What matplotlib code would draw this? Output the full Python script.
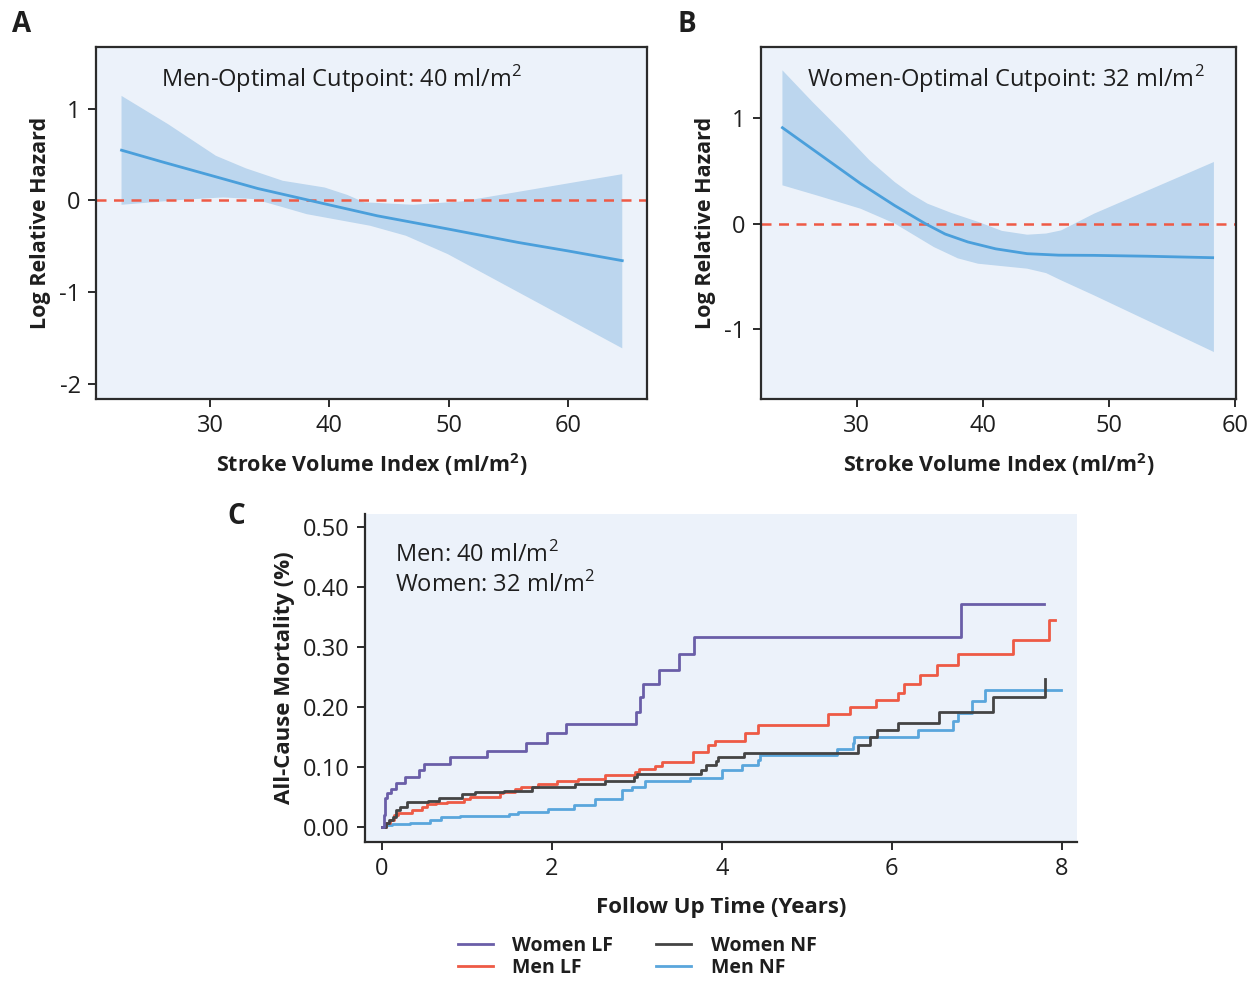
import matplotlib
matplotlib.use("Agg")
import matplotlib.pyplot as plt
from matplotlib.lines import Line2D

plt.rcParams['font.family'] = ['Open Sans', 'DejaVu Sans']
plt.rcParams['mathtext.fontset'] = 'custom'
plt.rcParams['mathtext.rm'] = 'Open Sans'
plt.rcParams['mathtext.bf'] = 'Open Sans:bold'

# ---------------- Data ----------------
# Panel A (men)
a_x = [22.6, 26.0, 30.2, 34.0, 38.7, 44.0, 49.9, 55.8, 60.0, 64.5]
a_y = [0.547, 0.42, 0.268, 0.13, -0.01, -0.167, -0.31, -0.457, -0.55, -0.655]
a_up_x = [22.6, 26.5, 30.5, 33.0, 36.1, 39.6, 41.5, 42.9, 47.0, 51.1, 64.5]
a_up_y = [1.138, 0.83, 0.486, 0.35, 0.214, 0.141, 0.06, -0.02, -0.047, -0.01, 0.286]
a_lo_x = [22.6, 28.0, 31.1, 33.7, 36.0, 38.1, 43.4, 46.4, 49.9, 64.5]
a_lo_y = [-0.047, 0.01, 0.033, 0.015, -0.07, -0.149, -0.275, -0.384, -0.584, -1.609]

# Panel B (women)
b_x = [24.1, 27.0, 30.3, 33.0, 35.4, 37.0, 38.8, 41.0, 43.5, 46.0, 48.8, 53.0, 58.2]
b_y = [0.908, 0.66, 0.378, 0.17, 0.0, -0.1, -0.175, -0.24, -0.286, -0.3, -0.302, -0.31, -0.324]
b_up_x = [24.1, 26.5, 29.0, 31.0, 33.0, 34.3, 35.6, 37.5, 39.6, 41.5, 43.5, 45.0, 46.2, 48.8, 58.3]
b_up_y = [1.452, 1.15, 0.851, 0.6, 0.393, 0.28, 0.188, 0.1, 0.016, -0.07, -0.106, -0.095, -0.065, 0.093, 0.583]
b_lo_x = [24.1, 27.0, 30.3, 33.0, 36.1, 38.0, 39.6, 43.5, 45.0, 46.2, 48.8, 58.3]
b_lo_y = [0.362, 0.26, 0.14, 0.0, -0.223, -0.33, -0.381, -0.428, -0.47, -0.539, -0.681, -1.218]

# Panel C (cumulative mortality step curves)
wlf_t = [0.0, 0.02, 0.04, 0.06, 0.11, 0.16, 0.27, 0.43, 0.49, 0.80, 1.23, 1.69, 1.94, 2.17,
         2.99, 3.04, 3.07, 3.26, 3.49, 3.67, 6.81, 7.79]
wlf_v = [0.0, 0.02, 0.048, 0.056, 0.064, 0.074, 0.084, 0.095, 0.105, 0.116, 0.127, 0.14, 0.156,
         0.171, 0.192, 0.216, 0.238, 0.262, 0.288, 0.316, 0.372, 0.372]

mlf_t = [0.0, 0.05, 0.09, 0.14, 0.19, 0.35, 0.47, 0.53, 0.64, 0.76, 0.96, 1.04, 1.39, 1.42, 1.56,
         1.64, 1.84, 2.06, 2.31, 2.62, 2.98, 3.02, 3.21, 3.29, 3.66, 3.84, 3.92, 4.27, 4.43, 5.25,
         5.51, 5.82, 6.07, 6.14, 6.33, 6.53, 6.78, 7.43, 7.85, 7.92]
mlf_v = [0.0, 0.006, 0.012, 0.02, 0.024, 0.028, 0.034, 0.038, 0.04, 0.042, 0.046, 0.05, 0.056,
         0.059, 0.063, 0.066, 0.072, 0.076, 0.08, 0.087, 0.092, 0.097, 0.102, 0.109, 0.125, 0.136,
         0.143, 0.156, 0.17, 0.188, 0.2, 0.211, 0.224, 0.238, 0.253, 0.27, 0.288, 0.311, 0.345, 0.345]

wnf_t = [0.0, 0.05, 0.08, 0.13, 0.17, 0.21, 0.29, 0.54, 0.67, 0.94, 1.09, 1.43, 1.76, 2.27, 2.62,
         2.96, 3.0, 3.76, 3.81, 3.93, 3.95, 4.26, 5.6, 5.74, 5.83, 6.07, 6.55, 7.19, 7.80]
wnf_v = [0.0, 0.006, 0.012, 0.017, 0.028, 0.034, 0.041, 0.044, 0.048, 0.055, 0.058, 0.06, 0.067,
         0.072, 0.077, 0.083, 0.088, 0.095, 0.103, 0.11, 0.117, 0.124, 0.137, 0.15, 0.162, 0.174,
         0.192, 0.216, 0.246]

mnf_t = [0.0, 0.05, 0.12, 0.33, 0.56, 0.69, 0.92, 1.49, 1.6, 1.95, 2.26, 2.51, 2.82, 2.94, 3.09,
         3.62, 4.0, 4.24, 4.43, 4.45, 5.35, 5.54, 5.55, 6.31, 6.72, 6.78, 6.95, 7.1, 7.99]
mnf_v = [0.0, 0.003, 0.005, 0.007, 0.012, 0.016, 0.018, 0.022, 0.025, 0.03, 0.037, 0.046, 0.062,
         0.067, 0.076, 0.082, 0.095, 0.104, 0.111, 0.12, 0.13, 0.14, 0.15, 0.162, 0.177, 0.19,
         0.21, 0.228, 0.228]

series_labels = ['Women LF', 'Men LF', 'Women NF', 'Men NF']
series_colors = ['#6A5EA8', '#EE5A45', '#444444', '#5AA6DC']

# ---------------- Style ----------------
BG = '#ECF2FA'
BAND = '#BCD6EE'
LINE = '#4A9FDB'
DASH = '#EE5A45'
SPINE = '#2B2B2B'
TXT = '#1E1E1E'
tick_fs = 17
lab_fs = 15.5
note_fs = 17

fig = plt.figure(figsize=(12.51, 9.81), dpi=100)
fig.patch.set_facecolor('white')

axA = fig.add_axes([0.0767, 0.5933, 0.4405, 0.3588])
axB = fig.add_axes([0.6083, 0.5933, 0.3797, 0.3588])
axC = fig.add_axes([0.2918, 0.1417, 0.5691, 0.3344])


def style(ax, box=True):
    ax.set_facecolor(BG)
    for s in ax.spines.values():
        s.set_color(SPINE)
        s.set_linewidth(1.6)
    if not box:
        ax.spines['top'].set_visible(False)
        ax.spines['right'].set_visible(False)
    ax.tick_params(direction='out', length=6, width=1.4, color=SPINE,
                   labelsize=tick_fs, labelcolor=TXT, pad=5)


def spline_panel(ax, x, y, ux, uy, lx, ly, xlim, ylim, yticks, xticks, title, title_x):
    style(ax)
    poly_x = list(ux) + list(lx)[::-1]
    poly_y = list(uy) + list(ly)[::-1]
    ax.fill(poly_x, poly_y, color=BAND, lw=0, zorder=1)
    ax.axhline(0, color=DASH, lw=1.8, ls=(0, (4, 3)), zorder=2)
    ax.plot(x, y, color=LINE, lw=2.0, zorder=3)
    ax.set_xlim(*xlim)
    ax.set_ylim(*ylim)
    ax.set_xticks(xticks)
    ax.set_yticks(yticks)
    ax.set_yticklabels([str(t) for t in yticks])
    ax.set_xlabel('Stroke Volume Index (ml/m$\\mathbf{^2}$)', fontsize=lab_fs,
                  fontweight='bold', color=TXT, labelpad=9)
    ax.set_ylabel('Log Relative Hazard', fontsize=lab_fs, fontweight='bold',
                  color=TXT, labelpad=6)
    ax.text(title_x, 0.91, title, transform=ax.transAxes, ha='center', va='center',
            fontsize=note_fs, color=TXT)


spline_panel(axA, a_x, a_y, a_up_x, a_up_y, a_lo_x, a_lo_y,
             (20.46, 66.57), (-2.16, 1.67), [-2, -1, 0, 1], [30, 40, 50, 60],
             'Men-Optimal Cutpoint: 40 ml/m$^2$', 0.446)
spline_panel(axB, b_x, b_y, b_up_x, b_up_y, b_lo_x, b_lo_y,
             (22.4, 60.05), (-1.663, 1.673), [-1, 0, 1], [30, 40, 50, 60],
             'Women-Optimal Cutpoint: 32 ml/m$^2$', 0.516)

# Panel C
style(axC, box=False)
axC.step(mnf_t, mnf_v, where='post', color=series_colors[3], lw=2.0, zorder=3)
axC.step(mlf_t, mlf_v, where='post', color=series_colors[1], lw=2.0, zorder=4)
axC.step(wnf_t, wnf_v, where='post', color=series_colors[2], lw=2.0, zorder=5)
axC.step(wlf_t, wlf_v, where='post', color=series_colors[0], lw=2.0, zorder=6)
axC.set_xlim(-0.2, 8.18)
axC.set_ylim(-0.025, 0.522)
axC.set_xticks([0, 2, 4, 6, 8])
axC.set_yticks([0.0, 0.1, 0.2, 0.3, 0.4, 0.5])
axC.set_yticklabels(['%.2f' % v for v in [0.0, 0.1, 0.2, 0.3, 0.4, 0.5]])
axC.set_xlabel('Follow Up Time (Years)', fontsize=16, fontweight='bold',
               color=TXT, labelpad=11)
axC.set_ylabel('All-Cause Mortality (%)', fontsize=16, fontweight='bold',
               color=TXT, labelpad=6)
axC.text(0.042, 0.875, 'Men: 40 ml/m$^2$', transform=axC.transAxes, fontsize=note_fs,
         color=TXT, ha='left', va='center')
axC.text(0.042, 0.785, 'Women: 32 ml/m$^2$', transform=axC.transAxes, fontsize=note_fs,
         color=TXT, ha='left', va='center')

# Panel letters
fig.text(22 / 1251, 1 - 25 / 981, 'A', fontsize=20, fontweight='bold', ha='center', va='center', color=TXT)
fig.text(687 / 1251, 1 - 25 / 981, 'B', fontsize=20, fontweight='bold', ha='center', va='center', color=TXT)
fig.text(236 / 1251, 1 - 517 / 981, 'C', fontsize=20, fontweight='bold', ha='center', va='center', color=TXT)

# Legend
handles = [Line2D([], [], color=c, lw=2) for c in series_colors]
leg = fig.legend(handles, series_labels, ncol=2, loc='center',
                 bbox_to_anchor=(0.5094, 0.0245), frameon=False,
                 prop={'weight': 'bold', 'size': 14}, handlelength=1.8,
                 handletextpad=1.0, columnspacing=2.2, labelspacing=0.1)
for t in leg.get_texts():
    t.set_color(TXT)

fig.savefig('out.png', dpi=100, facecolor='white')
